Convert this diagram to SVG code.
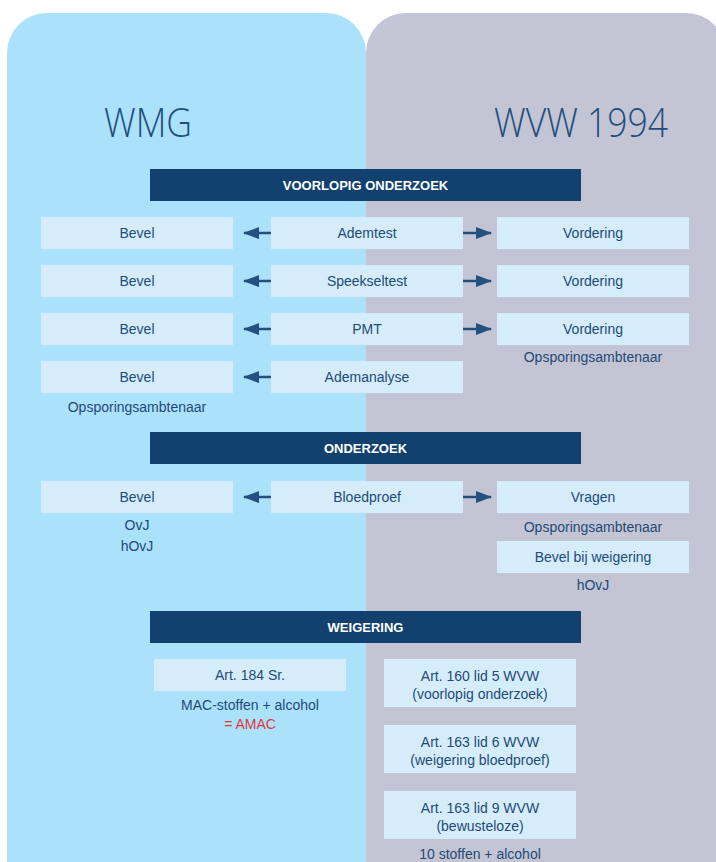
<svg xmlns="http://www.w3.org/2000/svg" width="716" height="862" viewBox="0 0 716 862">
<style>
.t{font-family:"Liberation Sans","Open Sans",Arial,sans-serif;fill:#1F4A78;font-size:14px;text-anchor:middle}
.title{font-family:"Open Sans","Lato","Liberation Sans",Arial,sans-serif;font-weight:300;fill:#1F4E7E;font-size:40px;text-anchor:middle}
.hdr{font-family:"Liberation Sans",Arial,sans-serif;fill:#ffffff;font-size:13px;font-weight:bold;text-anchor:middle}
.bar{fill:#13416F}
.box{fill:#D5EDFA}
.red{fill:#E0383E}
.arr{stroke:#24507F;stroke-width:2.5;fill:none;marker-end:url(#ah)}
</style>
<defs>
<marker id="ah" markerUnits="userSpaceOnUse" markerWidth="16" markerHeight="12" refX="15" refY="6" orient="auto">
<path d="M0,0 L16,6 L0,12 z" fill="#24507F"/>
</marker>
</defs>
<rect width="716" height="862" fill="#ffffff"/>
<g id="panels">
<path d="M7,862 V53 A40,40 0 0 1 47,13 H326 A40,40 0 0 1 366,53 V862 Z" fill="#ABE1FA"/>
<path d="M366,862 V53 A40,40 0 0 1 406,13 H686 A40,40 0 0 1 726,53 V862 Z" fill="#C4C5D4"/>
</g>
<g id="titles">
<text class="title" x="148" y="137" textLength="88" lengthAdjust="spacingAndGlyphs">WMG</text>
<text class="title" x="581" y="137" textLength="174" lengthAdjust="spacingAndGlyphs">WVW 1994</text>
</g>
<g id="hdr-voorlopig"><rect class="bar" x="150" y="169" width="431" height="32"/><text class="hdr" x="365.5" y="190">VOORLOPIG ONDERZOEK</text></g>
<g id="hdr-onderzoek"><rect class="bar" x="150" y="432" width="431" height="32"/><text class="hdr" x="365.5" y="453">ONDERZOEK</text></g>
<g id="hdr-weigering"><rect class="bar" x="150" y="611" width="431" height="32"/><text class="hdr" x="365.5" y="632">WEIGERING</text></g>

<g id="bevel1"><rect class="box" x="41" y="217" width="192" height="32"/><text class="t" x="137" y="238">Bevel</text></g>
<g id="ademtest"><rect class="box" x="271" y="217" width="192" height="32"/><text class="t" x="367" y="238">Ademtest</text></g>
<g id="vordering1"><rect class="box" x="497" y="217" width="192" height="32"/><text class="t" x="593" y="238">Vordering</text></g>

<g id="bevel2"><rect class="box" x="41" y="265" width="192" height="32"/><text class="t" x="137" y="286">Bevel</text></g>
<g id="speekseltest"><rect class="box" x="271" y="265" width="192" height="32"/><text class="t" x="367" y="286">Speekseltest</text></g>
<g id="vordering2"><rect class="box" x="497" y="265" width="192" height="32"/><text class="t" x="593" y="286">Vordering</text></g>

<g id="bevel3"><rect class="box" x="41" y="313" width="192" height="32"/><text class="t" x="137" y="334">Bevel</text></g>
<g id="pmt"><rect class="box" x="271" y="313" width="192" height="32"/><text class="t" x="367" y="334">PMT</text></g>
<g id="vordering3"><rect class="box" x="497" y="313" width="192" height="32"/><text class="t" x="593" y="334">Vordering</text><text class="t" x="593" y="362">Opsporingsambtenaar</text></g>

<g id="bevel4"><rect class="box" x="41" y="361" width="192" height="32"/><text class="t" x="137" y="382">Bevel</text><text class="t" x="137" y="412">Opsporingsambtenaar</text></g>
<g id="ademanalyse"><rect class="box" x="271" y="361" width="192" height="32"/><text class="t" x="367" y="382">Ademanalyse</text></g>

<g id="bevel5"><rect class="box" x="41" y="481" width="192" height="32"/><text class="t" x="137" y="502">Bevel</text><text class="t" x="137" y="530">OvJ</text><text class="t" x="137" y="551">hOvJ</text></g>
<g id="bloedproef"><rect class="box" x="271" y="481" width="192" height="32"/><text class="t" x="367" y="502">Bloedproef</text></g>
<g id="vragen"><rect class="box" x="497" y="481" width="192" height="32"/><text class="t" x="593" y="502">Vragen</text><text class="t" x="593" y="532">Opsporingsambtenaar</text></g>
<g id="bevelweigering"><rect class="box" x="497" y="541" width="192" height="32"/><text class="t" x="593" y="562">Bevel bij weigering</text><text class="t" x="593" y="590">hOvJ</text></g>

<g id="art184"><rect class="box" x="154" y="659" width="192" height="32"/><text class="t" x="250" y="680">Art. 184 Sr.</text><text class="t" x="250" y="710">MAC-stoffen + alcohol</text><text class="t red" x="250" y="729">= AMAC</text></g>
<g id="art160"><rect class="box" x="384" y="659" width="192" height="48"/><text class="t" x="480" y="681">Art. 160 lid 5 WVW</text><text class="t" x="480" y="699">(voorlopig onderzoek)</text></g>
<g id="art163-6"><rect class="box" x="384" y="725" width="192" height="48"/><text class="t" x="480" y="747">Art. 163 lid 6 WVW</text><text class="t" x="480" y="765">(weigering bloedproef)</text></g>
<g id="art163-9"><rect class="box" x="384" y="791" width="192" height="48"/><text class="t" x="480" y="813">Art. 163 lid 9 WVW</text><text class="t" x="480" y="831">(bewusteloze)</text><text class="t" x="480" y="859">10 stoffen + alcohol</text></g>

<g id="connectors">
<line class="arr" x1="271" y1="233" x2="244" y2="233"/>
<line class="arr" x1="463" y1="233" x2="491" y2="233"/>
<line class="arr" x1="271" y1="281" x2="244" y2="281"/>
<line class="arr" x1="463" y1="281" x2="491" y2="281"/>
<line class="arr" x1="271" y1="329" x2="244" y2="329"/>
<line class="arr" x1="463" y1="329" x2="491" y2="329"/>
<line class="arr" x1="271" y1="377" x2="244" y2="377"/>
<line class="arr" x1="271" y1="497" x2="244" y2="497"/>
<line class="arr" x1="463" y1="497" x2="491" y2="497"/>
</g>
</svg>
